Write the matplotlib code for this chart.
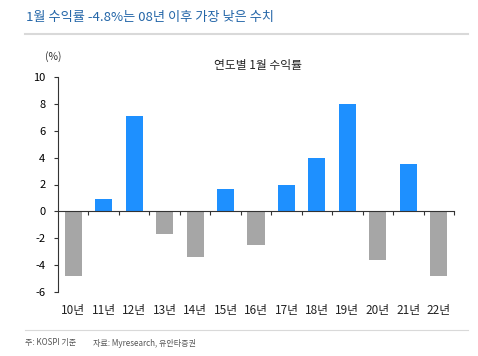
import matplotlib.pyplot as plt
import numpy as np

plt.rcParams['font.family'] = ['Noto Sans CJK KR', 'DejaVu Sans']
plt.rcParams['axes.unicode_minus'] = False

# 연도별 1월 수익률 (%)
years = ['10년', '11년', '12년', '13년', '14년', '15년', '16년',
         '17년', '18년', '19년', '20년', '21년', '22년']
returns = [-4.8, 0.9, 7.1, -1.7, -3.4, 1.7, -2.5, 2.0, 4.0, 8.0, -3.6, 3.5, -4.8]
yticks = [10, 8, 6, 4, 2, 0, -2, -4, -6]

blue = '#1E90FF'
gray = '#A6A6A6'

fig = plt.figure(figsize=(4.78, 3.56), dpi=100)
ax = fig.add_axes([58 / 478, 1 - 292 / 356, 396 / 478, 215 / 356])

x = np.arange(len(years))
colors = [blue if v >= 0 else gray for v in returns]
ax.bar(x, returns, width=0.56, color=colors)

ax.set_xlim(-0.5, len(years) - 0.5)
ax.set_ylim(-6, 10)
ax.set_yticks(yticks)
ax.tick_params(axis='y', length=3, width=0.8, labelsize=8, pad=6, color='#333333')

# x axis at zero, ticks between categories
ax.spines['bottom'].set_position(('data', 0))
ax.spines['top'].set_visible(False)
ax.spines['right'].set_visible(False)
ax.spines['left'].set_color('#333333')
ax.spines['bottom'].set_color('#333333')
ax.set_xticks(x + 0.5)
ax.set_xticklabels([])
ax.tick_params(axis='x', length=3, width=0.8, direction='out', color='#333333')

for xi, lab in zip(x, years):
    ax.text(xi, -0.088, lab, transform=ax.get_xaxis_transform(),
            ha='center', va='center', fontsize=8.5, color='#222222')

fig.text(53 / 478, 1 - 57 / 356, '(%)', ha='center', va='center', fontsize=7.5, color='#333333')
fig.text(258 / 478, 1 - 65 / 356, '연도별 1월 수익률', ha='center', va='center',
         fontsize=8.5, color='#222222')

# header
fig.text(26 / 478, 1 - 18 / 356, '1월 수익률 -4.8%는 08년 이후 가장 낮은 수치',
         ha='left', va='center', fontsize=9.5, color='#2466A8')
fig.add_artist(plt.Line2D([25 / 478, 468 / 478], [1 - 34 / 356] * 2,
                          color='#D9D9D9', linewidth=1.5))
fig.add_artist(plt.Line2D([25 / 478, 468 / 478], [1 - 330 / 356] * 2,
                          color='#D9D9D9', linewidth=0.8))

fig.text(25 / 478, 1 - 343 / 356, '주: KOSPI 기준', ha='left', va='center',
         fontsize=5.8, color='#555555')
fig.text(93 / 478, 1 - 343 / 356, '자료: Myresearch, 유안타증권', ha='left', va='center',
         fontsize=5.8, color='#555555')

fig.savefig('out.png', dpi=100)
